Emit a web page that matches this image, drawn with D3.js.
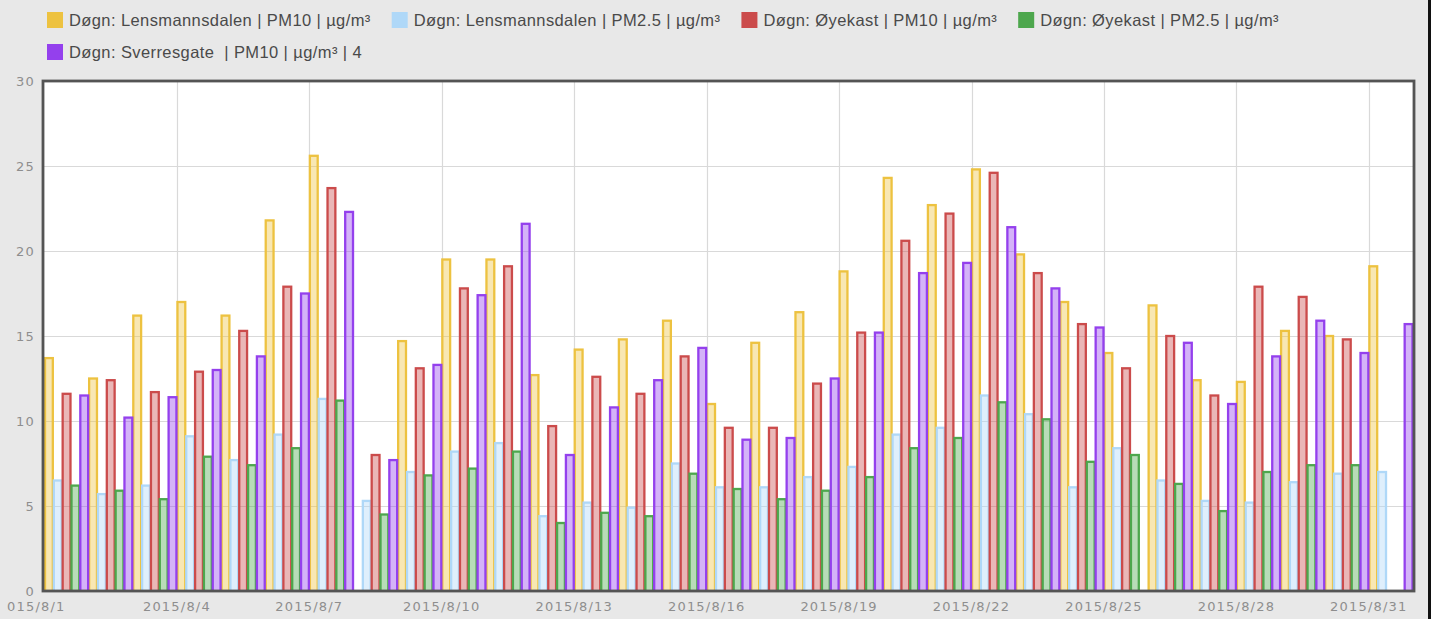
<!DOCTYPE html>
<html>
<head>
<meta charset="utf-8">
<script src="https://cdn.jsdelivr.net/npm/d3@7"></script>
<style>
  html, body { margin: 0; padding: 0; background: #e8e8e8; }
  svg { display: block; }
  .tick text { font-family: "DejaVu Sans", sans-serif; font-size: 13px; letter-spacing: 1.2px; fill: #8e8e8e; }
  .legend text { font-family: "Liberation Sans", Arial, sans-serif; font-size: 16.5px; letter-spacing: 0.4px; fill: #4a4a4a; white-space: pre; }
</style>
</head>
<body>
<div id="chart"></div>
<script>
// dates of the daily values (August 2015)
var days = ['2015-08-01','2015-08-02','2015-08-03','2015-08-04','2015-08-05','2015-08-06','2015-08-07','2015-08-08',
  '2015-08-09','2015-08-10','2015-08-11','2015-08-12','2015-08-13','2015-08-14','2015-08-15','2015-08-16',
  '2015-08-17','2015-08-18','2015-08-19','2015-08-20','2015-08-21','2015-08-22','2015-08-23','2015-08-24',
  '2015-08-25','2015-08-26','2015-08-27','2015-08-28','2015-08-29','2015-08-30','2015-08-31'];

var seriesNames = [
  'Døgn: Lensmannsdalen | PM10 | µg/m³',
  'Døgn: Lensmannsdalen | PM2.5 | µg/m³',
  'Døgn: Øyekast | PM10 | µg/m³',
  'Døgn: Øyekast | PM2.5 | µg/m³',
  'Døgn: Sverresgate  | PM10 | µg/m³ | 4'
];
var seriesColors = ['#edc240', '#afd8f8', '#cb4b4b', '#4da74d', '#9440ed'];

var lensmannsdalenPM10 = [13.7, 12.5, 16.2, 17.0, 16.2, 21.8, 25.6, null, 14.7, 19.5, 19.5, 12.7, 14.2, 14.8, 15.9, 11.0,
  14.6, 16.4, 18.8, 24.3, 22.7, 24.8, 19.8, 17.0, 14.0, 16.8, 12.4, 12.3, 15.3, 15.0, 19.1];
var lensmannsdalenPM25 = [6.5, 5.7, 6.2, 9.1, 7.7, 9.2, 11.3, 5.3, 7.0, 8.2, 8.7, 4.4, 5.2, 4.9, 7.5, 6.1,
  6.1, 6.7, 7.3, 9.2, 9.6, 11.5, 10.4, 6.1, 8.4, 6.5, 5.3, 5.2, 6.4, 6.9, 7.0];
var oyekastPM10 = [11.6, 12.4, 11.7, 12.9, 15.3, 17.9, 23.7, 8.0, 13.1, 17.8, 19.1, 9.7, 12.6, 11.6, 13.8, 9.6,
  9.6, 12.2, 15.2, 20.6, 22.2, 24.6, 18.7, 15.7, 13.1, 15.0, 11.5, 17.9, 17.3, 14.8, null];
var oyekastPM25 = [6.2, 5.9, 5.4, 7.9, 7.4, 8.4, 11.2, 4.5, 6.8, 7.2, 8.2, 4.0, 4.6, 4.4, 6.9, 6.0,
  5.4, 5.9, 6.7, 8.4, 9.0, 11.1, 10.1, 7.6, 8.0, 6.3, 4.7, 7.0, 7.4, 7.4, null];
var sverresgatePM10 = [11.5, 10.2, 11.4, 13.0, 13.8, 17.5, 22.3, 7.7, 13.3, 17.4, 21.6, 8.0, 10.8, 12.4, 14.3, 8.9,
  9.0, 12.5, 15.2, 18.7, 19.3, 21.4, 17.8, 15.5, null, 14.6, 11.0, 13.8, 15.9, 14.0, 15.7];

var seriesValues = [lensmannsdalenPM10, lensmannsdalenPM25, oyekastPM10, oyekastPM25, sverresgatePM10];
var yTicks = [0, 5, 10, 15, 20, 25, 30];

var width = 1431, height = 619;
var parse = d3.timeParse('%Y-%m-%d');
var dates = days.map(parse);
var fmt = d3.timeFormat('%Y/%-m/%-d');

var svg = d3.select('#chart').append('svg')
  .attr('width', width)
  .attr('height', height);

svg.append('rect').attr('width', width).attr('height', height).attr('fill', '#e8e8e8');

var plotLeft = 43, plotRight = 1414, plotTop = 81, plotBottom = 591;

var x = d3.scaleTime()
  .domain([dates[0], d3.timeDay.offset(dates[dates.length - 1], 1)])
  .range([44.5, 1413]);
var y = d3.scaleLinear().domain([0, 30]).range([plotBottom, plotTop]);

svg.append('rect')
  .attr('x', plotLeft).attr('y', plotTop)
  .attr('width', plotRight - plotLeft).attr('height', plotBottom - plotTop)
  .attr('fill', '#fff');

// grid
var xTicks = x.ticks(d3.timeDay.every(3)).filter(function(d) { return d < x.domain()[1]; });

svg.append('g').selectAll('line')
  .data(yTicks.slice(1, -1))
  .enter().append('line')
  .attr('x1', plotLeft).attr('x2', plotRight)
  .attr('y1', function(d) { return Math.round(y(d)) + 0.5; })
  .attr('y2', function(d) { return Math.round(y(d)) + 0.5; })
  .attr('stroke', '#d9d9d9').attr('stroke-width', 1.2);

svg.append('g').selectAll('line')
  .data(xTicks.slice(1))
  .enter().append('line')
  .attr('x1', function(d) { return Math.round(x(d)) + 0.5; })
  .attr('x2', function(d) { return Math.round(x(d)) + 0.5; })
  .attr('y1', plotTop).attr('y2', plotBottom)
  .attr('stroke', '#d9d9d9').attr('stroke-width', 1.2);

// bars
svg.append('clipPath').attr('id', 'plotclip')
  .append('rect')
  .attr('x', plotLeft).attr('y', plotTop)
  .attr('width', plotRight - plotLeft).attr('height', plotBottom - plotTop);

var barsG = svg.append('g').attr('clip-path', 'url(#plotclip)');
seriesValues.forEach(function(vals, i) {
  var g = barsG.append('g');
  g.selectAll('rect')
    .data(vals.map(function(v, j) { return {v: v, d: dates[j]}; }).filter(function(o) { return o.v != null; }))
    .enter().append('rect')
    .attr('x', function(o) {
      var bw = (x(d3.timeDay.offset(o.d, 1)) - x(o.d)) / seriesValues.length;
      return x(o.d) + i * bw + 0.5;
    })
    .attr('width', function(o) {
      var bw = (x(d3.timeDay.offset(o.d, 1)) - x(o.d)) / seriesValues.length;
      return bw - 1;
    })
    .attr('y', function(o) { return y(o.v); })
    .attr('height', function(o) { return y(0) - y(o.v) + 2; })
    .attr('fill', seriesColors[i])
    .attr('fill-opacity', 0.4)
    .attr('stroke', seriesColors[i])
    .attr('stroke-width', 2.3);
});

// border
svg.append('rect')
  .attr('x', plotLeft).attr('y', plotTop)
  .attr('width', plotRight - plotLeft).attr('height', plotBottom - plotTop)
  .attr('fill', 'none').attr('stroke', '#545454').attr('stroke-width', 2.8);

// y axis labels
svg.append('g').attr('class', 'tick').selectAll('text')
  .data(yTicks)
  .enter().append('text')
  .attr('x', 35)
  .attr('y', function(d) { return y(d); })
  .attr('dy', '0.35em')
  .attr('text-anchor', 'end')
  .text(function(d) { return d; });

// x axis labels (the first one is cut by the left edge, as in the source)
svg.append('clipPath').attr('id', 'labelclip')
  .append('rect').attr('x', 5).attr('y', 592).attr('width', width - 5).attr('height', 27);

svg.append('g').attr('class', 'tick').attr('clip-path', 'url(#labelclip)').selectAll('text')
  .data(xTicks)
  .enter().append('text')
  .attr('x', function(d, i) { return i === 0 ? x(d) + 21 : x(d); })
  .attr('y', 611)
  .attr('text-anchor', function(d, i) { return i === 0 ? 'end' : 'middle'; })
  .text(function(d) { return fmt(d); });

// legend
var legend = svg.append('g').attr('class', 'legend');
var lx = 47, ly = 12, maxX = 1400;
seriesNames.forEach(function(name, i) {
  var item = legend.append('g');
  item.append('rect')
    .attr('x', 0).attr('y', 0).attr('width', 16).attr('height', 16)
    .attr('fill', seriesColors[i]);
  var t = item.append('text')
    .attr('x', 22).attr('y', 8).attr('dy', '0.35em')
    .attr('xml:space', 'preserve')
    .text(name);
  var w = 22 + t.node().getComputedTextLength();
  if (lx + w > maxX) { lx = 47; ly += 32; }
  item.attr('transform', 'translate(' + lx + ',' + ly + ')');
  lx += w + 21;
});

// dark frame edge on the right
svg.append('line')
  .attr('x1', 1429.5).attr('x2', 1429.5).attr('y1', 0).attr('y2', height)
  .attr('stroke', '#111').attr('stroke-width', 3);
</script>
</body>
</html>
